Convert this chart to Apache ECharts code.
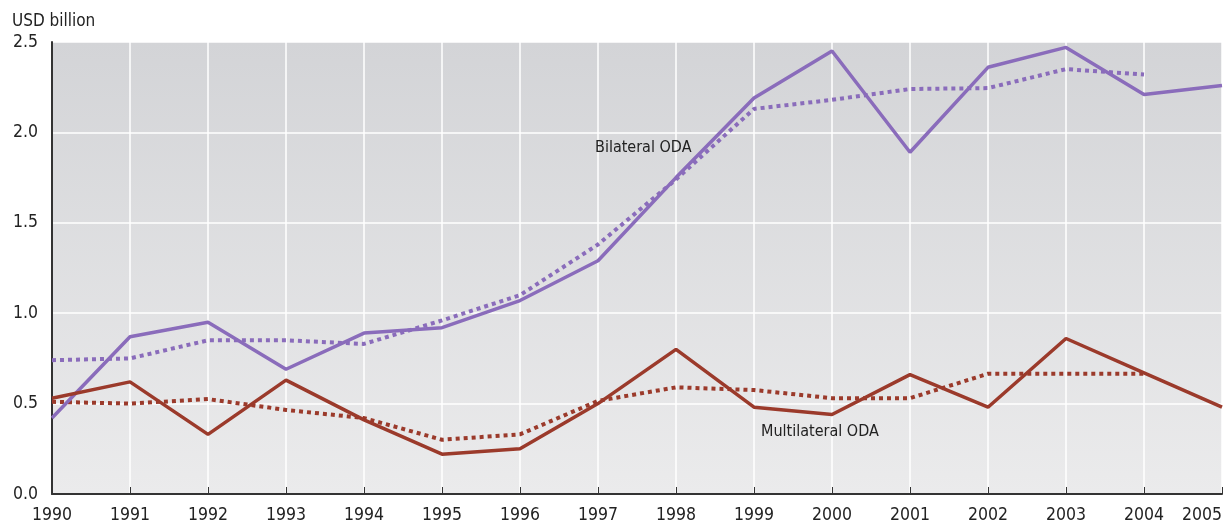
<!DOCTYPE html>
<html><head><meta charset="utf-8">
<script src="https://cdn.jsdelivr.net/npm/echarts@6/dist/echarts.min.js"></script>
<style>html,body{margin:0;padding:0;background:#fff}#c{width:1225px;height:526px}</style>
</head><body><div id="c"></div>
<script>
const years = ['1990','1991','1992','1993','1994','1995','1996','1997','1998','1999','2000','2001','2002','2003','2004','2005'];
const bilateral = [0.42,0.87,0.95,0.69,0.89,0.92,1.07,1.29,1.75,2.19,2.45,1.89,2.36,2.47,2.21,2.26];
const bilateralAvg = [0.74,0.75,0.85,0.85,0.83,0.96,1.10,1.38,1.74,2.13,2.18,2.24,2.245,2.35,2.32,null];
const multilateral = [0.53,0.62,0.33,0.63,0.41,0.22,0.25,0.50,0.80,0.48,0.44,0.66,0.48,0.86,0.67,0.48];
const multilateralAvg = [0.51,0.50,0.525,0.465,0.42,0.30,0.33,0.515,0.59,0.575,0.53,0.53,0.665,0.665,0.665,null];
const yTicks = [0, 0.5, 1.0, 1.5, 2.0, 2.5];
const labels = {bilateral:'Bilateral ODA', multilateral:'Multilateral ODA', unit:'USD billion'};

const FONT = "'DejaVu Sans Condensed','Liberation Sans Narrow',sans-serif";
const PURPLE = '#8a6cbb', RED = '#9b3a2b';
const chart = echarts.init(document.getElementById('c'), null, {renderer:'canvas'});
function line(name, data, color, dotted){
  return {name, type:'line', data, symbol:'none', connectNulls:false,
    lineStyle:{color, width: dotted ? 4 : 3.5, type: dotted ? [4,4] : 'solid', cap:'butt'}, z: dotted?2:3, animation:false};
}
chart.setOption({
  animation:false,
  grid:{left:52, right:1, top:42, bottom:32, show:true, borderWidth:0,
    backgroundColor:{type:'linear',x:0,y:0,x2:0,y2:1,colorStops:[{offset:0,color:'#d3d4d7'},{offset:1,color:'#ebebec'}]}},
  xAxis:{type:'category', data:years, boundaryGap:false,
    axisLine:{lineStyle:{color:'#333', width:2}},
    axisTick:{show:true, inside:true, length:7, lineStyle:{color:'#333', width:1}},
    axisLabel:{color:'#222', fontFamily:FONT, fontSize:17.5, margin:12, alignMaxLabel:'right'},
    splitLine:{show:true, lineStyle:{color:'#ffffff', width:1.5}}},
  yAxis:{type:'value', min:yTicks[0], max:yTicks[yTicks.length-1], interval:0.5,
    name:labels.unit, nameLocation:'end', nameGap:12,
    nameTextStyle:{color:'#222', fontFamily:FONT, fontSize:17, align:'left', padding:[0,0,0,-40]},
    axisLine:{show:true, lineStyle:{color:'#333', width:2}},
    axisTick:{show:false},
    axisLabel:{color:'#222', fontFamily:FONT, fontSize:17.5, margin:14, formatter:v=>v.toFixed(1)},
    splitLine:{show:true, lineStyle:{color:'#ffffff', width:1.5}}},
  series:[
    line('Bilateral avg', bilateralAvg, PURPLE, true),
    line('Multilateral avg', multilateralAvg, RED, true),
    line(labels.bilateral, bilateral, PURPLE, false),
    line(labels.multilateral, multilateral, RED, false)
  ],
  graphic:[
    {type:'text', z:100, left:595, top:140, style:{text:labels.bilateral, fill:'#222', font:"16px "+FONT}},
    {type:'text', z:100, left:761, top:424, style:{text:labels.multilateral, fill:'#222', font:"16px "+FONT}}
  ]
});
</script></body></html>
